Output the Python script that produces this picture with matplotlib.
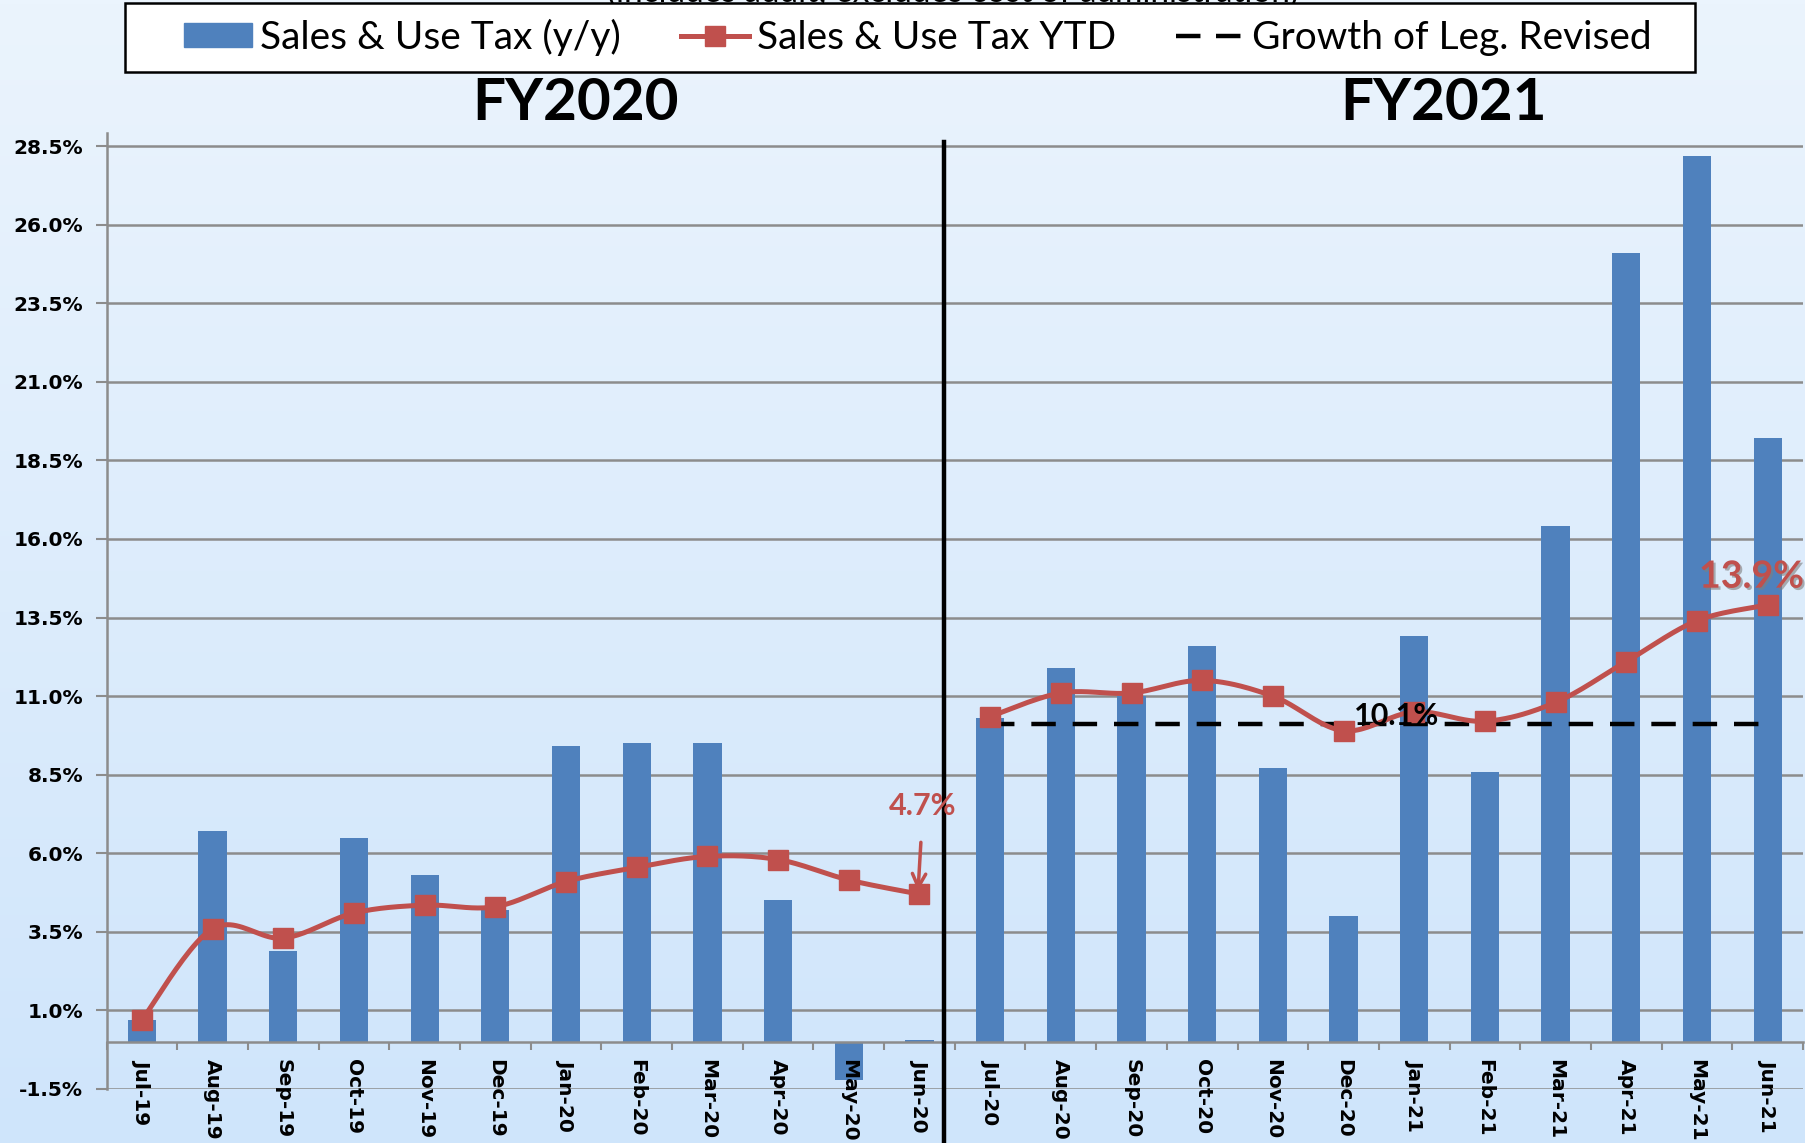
import numpy as np
import matplotlib
matplotlib.use("Agg")
import matplotlib.pyplot as plt
import matplotlib.patheffects as pe
from matplotlib.lines import Line2D
from matplotlib.patches import Patch, Rectangle
from matplotlib.colors import LinearSegmentedColormap

months = ["Jul-19", "Aug-19", "Sep-19", "Oct-19", "Nov-19", "Dec-19", "Jan-20", "Feb-20",
          "Mar-20", "Apr-20", "May-20", "Jun-20", "Jul-20", "Aug-20", "Sep-20", "Oct-20",
          "Nov-20", "Dec-20", "Jan-21", "Feb-21", "Mar-21", "Apr-21", "May-21", "Jun-21"]
yy_growth = [0.7, 6.7, 2.9, 6.5, 5.3, 4.2, 9.4, 9.5, 9.5, 4.5, -1.2, 0.05,
             10.3, 11.9, 11.0, 12.6, 8.7, 4.0, 12.9, 8.6, 16.4, 25.1, 28.2, 19.2]
ytd_fy2020 = [0.7, 3.6, 3.3, 4.1, 4.35, 4.3, 5.1, 5.55, 5.9, 5.8, 5.15, 4.7]
ytd_fy2021 = [10.35, 11.1, 11.1, 11.5, 11.0, 9.9, 10.5, 10.2, 10.8, 12.1, 13.4, 13.9]
leg_revised = 10.1
yticks = [-1.5, 1.0, 3.5, 6.0, 8.5, 11.0, 13.5, 16.0, 18.5, 21.0, 23.5, 26.0, 28.5]

BLUE = "#4F81BD"
RED = "#C0504D"
GRID = "#8C8C8C"
W, H = 1806, 1143
FONT = ["Lato", "DejaVu Sans"]

fig = plt.figure(figsize=(W / 100, H / 100), dpi=100)

# gradient background
bg = fig.add_axes([0, 0, 1, 1], zorder=-10)
cmap = LinearSegmentedColormap.from_list("bg", ["#EBF4FD", "#CFE5FB"])
bg.imshow(np.linspace(0, 1, 256)[:, None], aspect="auto", cmap=cmap, extent=[0, 1, 0, 1])
bg.set_axis_off()

x0, x1 = 106.6, 1803
ybot, ytop = 1089, 133
ax = fig.add_axes([x0 / W, 1 - ybot / H, (x1 - x0) / W, (ybot - ytop) / H])
ax.set_facecolor("none")
n = len(months)
x = np.arange(n)
ax.set_xlim(-0.5, n - 0.5)
ax.set_ylim(-1.5, -1.5 + (ybot - ytop) / 31.43)

# gridlines (behind bars)
for v in yticks:
    ax.axhline(v, color=GRID, lw=1.8, zorder=0.5)

ax.bar(x, yy_growth, width=0.4, color=BLUE, zorder=2)


def smooth(xs, ys, k=24):
    pts = np.column_stack([xs, ys]).astype(float)
    P = np.vstack([pts[0], pts, pts[-1]])
    out = []
    t = np.linspace(0, 1, k, endpoint=False)[:, None]
    for i in range(1, len(P) - 2):
        p0, p1, p2, p3 = P[i - 1], P[i], P[i + 1], P[i + 2]
        c = 0.5 * ((2 * p1) + (-p0 + p2) * t + (2 * p0 - 5 * p1 + 4 * p2 - p3) * t ** 2
                   + (-p0 + 3 * p1 - 3 * p2 + p3) * t ** 3)
        out.append(c)
    out.append(pts[-1:])
    return np.vstack(out)


for xs, ys in [(x[:12], ytd_fy2020), (x[12:], ytd_fy2021)]:
    s = smooth(xs, ys)
    ax.plot(s[:, 0], s[:, 1], color=RED, lw=3.6, zorder=4, solid_capstyle="round")
    ax.plot(xs, ys, ls="none", marker="s", ms=14, color=RED, zorder=5)

ax.plot([12, 23], [leg_revised, leg_revised], color="black", lw=3.2,
        dashes=(5.5, 3.8), zorder=3)

# axes styling
ax.set_axisbelow(False)
ax.set_yticks(yticks)
ax.set_yticklabels([f"{v:.1f}%" for v in yticks], fontsize=14.5, fontweight="bold",
                   family="DejaVu Sans")
ax.tick_params(axis="y", length=8, width=1.5, color=GRID, pad=9)

ax.spines["bottom"].set_position(("data", 0))
ax.spines["bottom"].set_color(GRID)
ax.spines["bottom"].set_linewidth(1.8)
ax.spines["left"].set_color(GRID)
ax.spines["left"].set_linewidth(1.8)
ax.spines["top"].set_visible(False)
ax.spines["right"].set_visible(False)

ax.set_xticks(x)
ax.set_xticklabels(months, rotation=270, fontsize=14.5, fontweight="bold",
                   family="DejaVu Sans", va="top", ha="center")
ax.tick_params(axis="x", which="major", length=0, pad=12)
ax.set_xticks(np.arange(-0.5, n, 1), minor=True)
ax.tick_params(axis="x", which="minor", length=6, width=1.5, color=GRID)

# fiscal-year divider
ax.plot([11.35, 11.35], [28.63, -5], color="black", lw=3.2,
        clip_on=False, zorder=7)

# titles
fig.text(576 / W, 1 - 104 / H, "FY2020", fontsize=42, fontweight="bold",
         family=FONT, ha="center", va="center")
fig.text(1444 / W, 1 - 104 / H, "FY2021", fontsize=42, fontweight="bold",
         family=FONT, ha="center", va="center")
fig.text(953 / W, 1 - 2 / H, "(includes audit; excludes cost of administration)",
         fontsize=24, family=FONT, ha="center", va="baseline")

# annotations
shadow = [pe.withSimplePatchShadow(offset=(1.5, -1.5), shadow_rgbFace="#7f7f7f", alpha=0.5)]
ax.annotate("4.7%", xy=(10.98, ytd_fy2020[-1] + 0.1), xytext=(11.05, 7.5),
            color=RED, fontsize=22, fontweight="bold", family=FONT,
            ha="center", va="center", zorder=8,
            arrowprops=dict(arrowstyle="->", color=RED, lw=2.5, mutation_scale=24,
                            shrinkA=14, shrinkB=0))
ax.text(22.77, 14.8, "13.9%", color=RED, fontsize=27, fontweight="bold",
        family=FONT, ha="center", va="center", zorder=8,
        path_effects=[pe.withSimplePatchShadow(offset=(1.5, -1.5), shadow_rgbFace="#7f7f7f",
                                               alpha=0.6)])
ax.text(17.75, 10.37, "10.1%", color="black", fontsize=22, fontweight="bold",
        family=FONT, ha="center", va="center", zorder=8)

# legend with frame drawn explicitly
frame = Rectangle((125 / W, 1 - 72 / H), 1570 / W, 69 / H, transform=fig.transFigure,
                  facecolor="white", edgecolor="black", lw=1.8, zorder=4)
fig.patches.append(frame)
handles = [Patch(facecolor=BLUE, edgecolor=BLUE),
           Line2D([], [], color=RED, lw=3.6, marker="s", ms=14),
           Line2D([], [], color="black", lw=3.2, dashes=(5.5, 3.5))]
labels = ["Sales & Use Tax (y/y)", "Sales & Use Tax YTD", "Growth of Leg. Revised"]
leg = fig.legend(handles, labels, loc="center left",
                 bbox_to_anchor=(184 / W, 1 - 37 / H),
                 ncol=3, frameon=False,
                 prop={"family": FONT, "size": 28},
                 handlelength=1.75, handleheight=0.6, handletextpad=0.2,
                 borderpad=0, borderaxespad=0, columnspacing=1.55)
leg.set_zorder(5)

fig.savefig("out.png", dpi=100)
